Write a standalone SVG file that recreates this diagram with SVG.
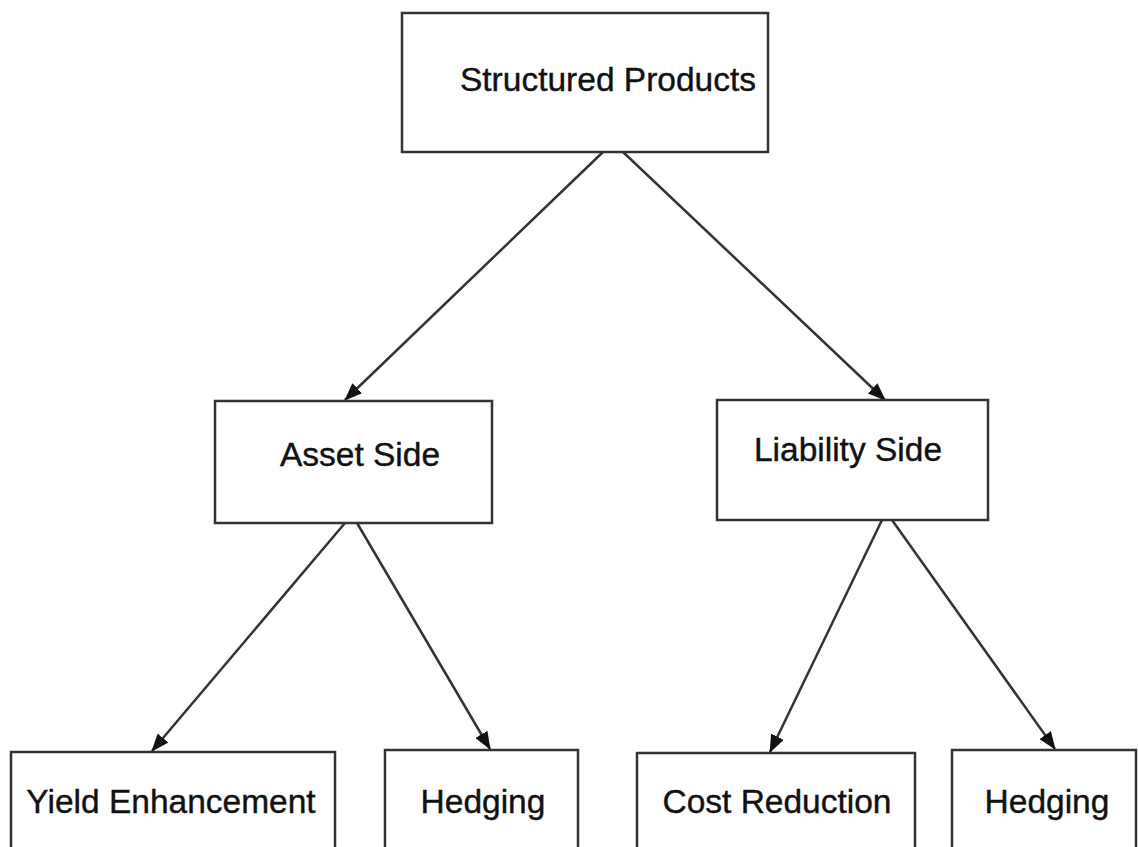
<svg xmlns="http://www.w3.org/2000/svg" width="1138" height="847" viewBox="0 0 1138 847">
<defs>
<marker id="arr" viewBox="0 0 18 14" refX="17" refY="7" markerWidth="18" markerHeight="14" markerUnits="userSpaceOnUse" orient="auto">
<path d="M0,0 L18,7 L0,14 z" fill="#111"/>
</marker>
<style>
.box{fill:#fff;stroke:#333;stroke-width:2.5}
.lbl{font-family:"Liberation Sans",Arial,sans-serif;font-size:33.5px;fill:#111;stroke:#111;stroke-width:0.4;text-anchor:middle}
.con{stroke:#333;stroke-width:2.5;fill:none;marker-end:url(#arr)}
</style>
</defs>
<rect width="1138" height="847" fill="#fff"/>
<g id="connectors">
<line class="con" x1="603" y1="152" x2="345" y2="400"/>
<line class="con" x1="623" y1="152" x2="885" y2="400"/>
<line class="con" x1="345" y1="523" x2="152" y2="751"/>
<line class="con" x1="357" y1="523" x2="490" y2="749"/>
<line class="con" x1="882" y1="520" x2="770" y2="752"/>
<line class="con" x1="892" y1="520" x2="1055" y2="749"/>
</g>
<g id="n-structured"><rect class="box" x="402" y="13" width="366" height="139"/><text class="lbl" x="608" y="91">Structured Products</text></g>
<g id="n-asset"><rect class="box" x="215" y="401" width="277" height="122"/><text class="lbl" x="360" y="466">Asset Side</text></g>
<g id="n-liability"><rect class="box" x="717" y="400" width="271" height="120"/><text class="lbl" x="848" y="461">Liability Side</text></g>
<g id="n-yield"><rect class="box" x="11" y="752" width="324" height="110"/><text class="lbl" x="171" y="813">Yield Enhancement</text></g>
<g id="n-hedging1"><rect class="box" x="385" y="750" width="193" height="110"/><text class="lbl" x="483" y="813">Hedging</text></g>
<g id="n-cost"><rect class="box" x="637" y="753" width="278" height="110"/><text class="lbl" x="777" y="813">Cost Reduction</text></g>
<g id="n-hedging2"><rect class="box" x="952" y="750" width="184" height="110"/><text class="lbl" x="1047" y="813">Hedging</text></g>
</svg>
